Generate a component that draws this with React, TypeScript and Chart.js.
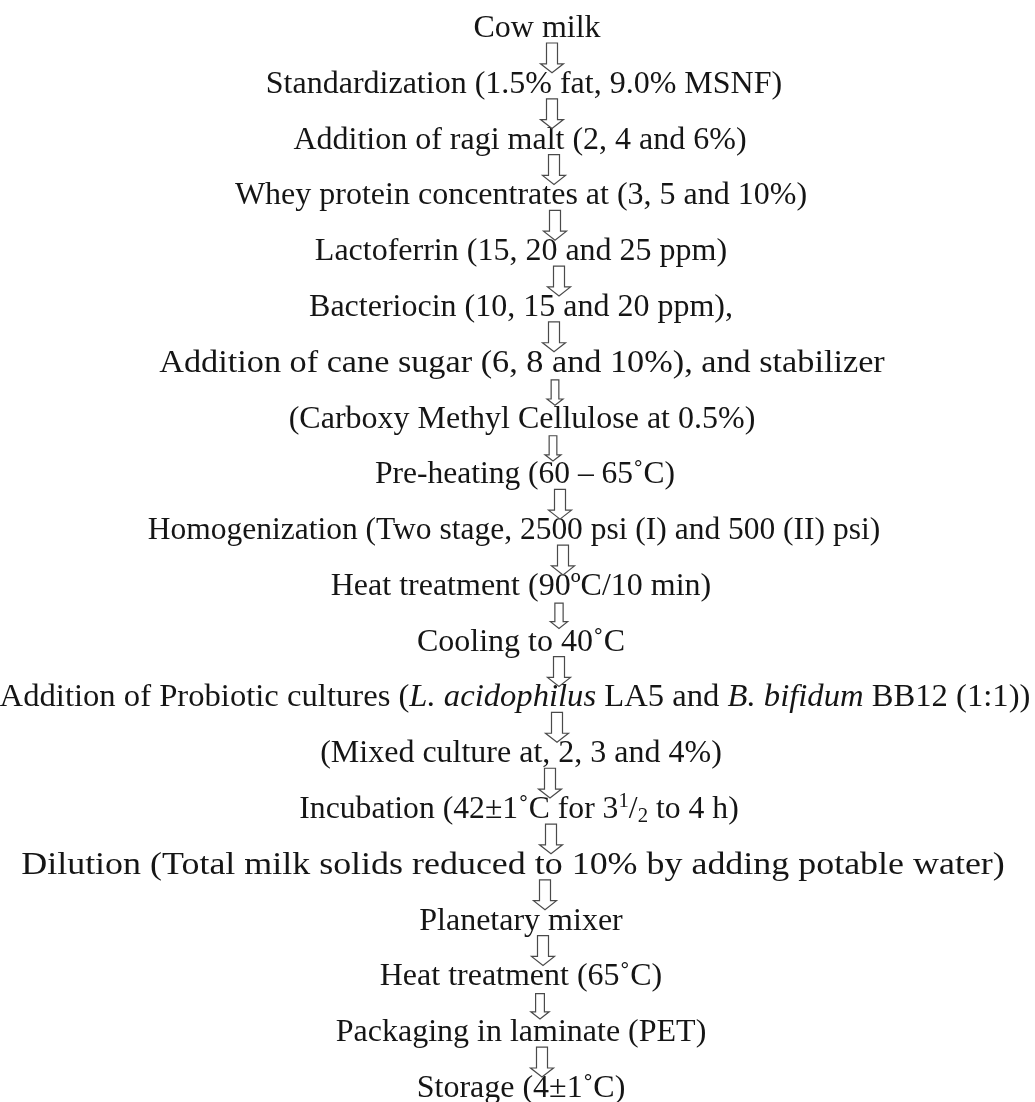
import React, { useEffect, useRef } from "react";
import { Chart, registerables } from "chart.js";

Chart.register(...registerables);

// ---- Flow steps (text of each box, in order) ----
// markup: *italic*, ^superscript^, ~subscript~
const steps: string[] = [
  "Cow milk",
  "Standardization (1.5% fat, 9.0% MSNF)",
  "Addition of ragi malt (2, 4 and 6%)",
  "Whey protein concentrates at (3, 5 and 10%)",
  "Lactoferrin (15, 20 and 25 ppm)",
  "Bacteriocin (10, 15 and 20 ppm),",
  "Addition of cane sugar (6, 8 and 10%), and stabilizer",
  "(Carboxy Methyl Cellulose at 0.5%)",
  "Pre-heating (60 \u2013 65\u02DAC)",
  "Homogenization (Two stage, 2500 psi (I) and 500 (II) psi)",
  "Heat treatment (90\u00BAC/10 min)",
  "Cooling to 40\u02DAC",
  "Addition of Probiotic cultures (*L. acidophilus* LA5 and *B. bifidum* BB12 (1:1))",
  "(Mixed culture at, 2, 3 and 4%)",
  "Incubation (42\u00B11\u02DAC for 3^1^/~2~ to 4 h)",
  "Dilution (Total milk solids reduced to 10% by adding potable water)",
  "Planetary mixer",
  "Heat treatment (65\u02DAC)",
  "Packaging in laminate (PET)",
  "Storage (4\u00B11\u02DAC)",
];

// layout: horizontal centre / horizontal stretch of each text line; centre and size of each arrow
const stepCenters: number[] = [
  537, 524, 520, 521, 521, 521, 522, 522, 525, 514,
  521, 521, 515, 521, 519, 513, 521, 521, 521, 521,
];
const stepStretch: number[] = [
  1, 1, 1, 1, 1, 1, 1.07, 1, 0.985, 0.984,
  1, 1, 1.02, 1, 0.99, 1.123, 1, 1, 1, 1,
];
const arrowX: number[] = [
  552, 552, 554, 555, 559, 554, 555, 553, 560, 563,
  559, 559, 557, 550, 551, 545, 543, 540, 542,
];
const arrowSize: number[] = [
  1, 1, 1, 1, 1, 1, 0.7, 0.7, 1, 1,
  0.75, 1, 1, 1, 1, 1, 1, 0.8, 1,
];

const W = 1035;
const H = 1102;
const FIRST_BASELINE = 37;
const LAST_BASELINE = 1097;
const FONT_SIZE = 32;
const FONT_FAMILY = "'Liberation Serif', 'Times New Roman', serif";

type Seg = { text: string; italic: boolean; sup: boolean; sub: boolean };

function parseMarkup(s: string): Seg[] {
  const segs: Seg[] = [];
  let italic = false, sup = false, sub = false;
  let buf = "";
  const flush = () => {
    if (buf) segs.push({ text: buf, italic, sup, sub });
    buf = "";
  };
  for (const ch of s) {
    if (ch === "*") { flush(); italic = !italic; }
    else if (ch === "^") { flush(); sup = !sup; }
    else if (ch === "~") { flush(); sub = !sub; }
    else buf += ch;
  }
  flush();
  return segs;
}

function segFont(seg: Seg): string {
  const size = seg.sup || seg.sub ? Math.round(FONT_SIZE * 0.65) : FONT_SIZE;
  return `${seg.italic ? "italic " : ""}${size}px ${FONT_FAMILY}`;
}

const flowPlugin = {
  id: "flowText",
  afterDatasetsDraw(chart: any) {
    const { ctx, scales } = chart;
    const xs = scales.x;
    const ys = scales.y;
    ctx.save();
    ctx.textBaseline = "alphabetic";
    ctx.textAlign = "left";
    ctx.fillStyle = "#151515";
    // text lines
    steps.forEach((label, i) => {
      const segs = parseMarkup(label);
      let total = 0;
      const widths = segs.map((sg) => {
        ctx.font = segFont(sg);
        const w = ctx.measureText(sg.text).width;
        total += w;
        return w;
      });
      const cx = xs.getPixelForValue(stepCenters[i]);
      const by = ys.getPixelForValue(i);
      const k = stepStretch[i];
      ctx.save();
      ctx.translate(cx, by);
      ctx.scale(k, 1);
      let x = -total / 2;
      segs.forEach((sg, j) => {
        ctx.font = segFont(sg);
        let dy = 0;
        if (sg.sup) dy = -FONT_SIZE * 0.36;
        if (sg.sub) dy = FONT_SIZE * 0.12;
        ctx.fillText(sg.text, x, dy);
        x += widths[j];
      });
      ctx.restore();
    });
    // hollow down arrows between consecutive steps
    ctx.strokeStyle = "#4a4a4a";
    ctx.lineWidth = 1.2;
    ctx.fillStyle = "#ffffff";
    for (let i = 0; i < steps.length - 1; i++) {
      const s = arrowSize[i];
      const cx = xs.getPixelForValue(arrowX[i]);
      const y0 = ys.getPixelForValue(i) + 6;
      const y1 = ys.getPixelForValue(i + 1) - 20;
      const mid = (y0 + y1) / 2;
      const half = ((y1 - y0) / 2) * (s < 1 ? 0.85 : 1);
      const top = mid - half;
      const bottom = mid + half;
      const sw = 11 * s;
      const hw = 23 * s;
      const hh = 9 * s;
      ctx.beginPath();
      ctx.moveTo(cx - sw / 2, top);
      ctx.lineTo(cx + sw / 2, top);
      ctx.lineTo(cx + sw / 2, bottom - hh);
      ctx.lineTo(cx + hw / 2, bottom - hh);
      ctx.lineTo(cx, bottom);
      ctx.lineTo(cx - hw / 2, bottom - hh);
      ctx.lineTo(cx - sw / 2, bottom - hh);
      ctx.closePath();
      ctx.fill();
      ctx.stroke();
    }
    ctx.restore();
  },
};

export default function App() {
  const ref = useRef<HTMLCanvasElement | null>(null);

  useEffect(() => {
    document.body.style.margin = "0";
    document.body.style.background = "#ffffff";
    const canvas = ref.current;
    if (!canvas) return;
    const unit = (LAST_BASELINE - FIRST_BASELINE) / (steps.length - 1);
    const yMin = -FIRST_BASELINE / unit;
    const yMax = yMin + H / unit;
    const chart = new Chart(canvas, {
      type: "scatter",
      data: {
        datasets: [
          {
            label: "steps",
            data: steps.map((_, i) => ({ x: stepCenters[i], y: i })),
            pointRadius: 0,
            showLine: false,
          },
        ],
      },
      options: {
        animation: false,
        responsive: false,
        maintainAspectRatio: false,
        devicePixelRatio: 1,
        layout: { padding: 0 },
        plugins: {
          legend: { display: false },
          tooltip: { enabled: false },
          title: { display: false },
        },
        scales: {
          x: { type: "linear", display: false, min: 0, max: W },
          y: { type: "linear", display: false, min: yMin, max: yMax, reverse: true },
        },
      },
      plugins: [flowPlugin],
    });
    return () => chart.destroy();
  }, []);

  return (
    <div style={{ position: "absolute", left: 0, top: 0, width: W, height: H, background: "#fff" }}>
      <canvas ref={ref} width={W} height={H} style={{ width: W, height: H, display: "block" }} />
    </div>
  );
}
